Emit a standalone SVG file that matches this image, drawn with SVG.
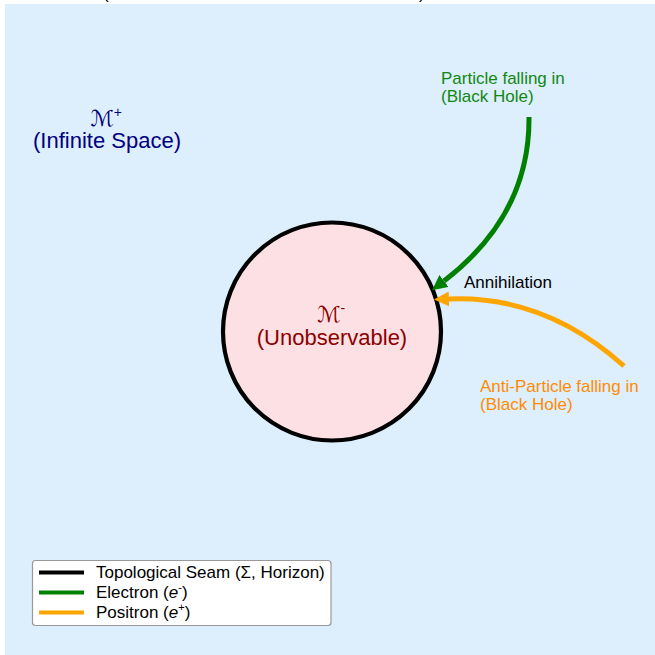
<svg xmlns="http://www.w3.org/2000/svg" width="655" height="655" viewBox="0 0 655 655">
  <style>
    text { font-family: "Liberation Sans", Arial, sans-serif; }
    .big { font-size: 22px; }
    .mid { font-size: 17px; }
    .cal { font-family: "DejaVu Sans", "Liberation Serif", serif; font-style: italic; }
    .blue { fill: #000080; }
    .red { fill: #8b0000; }
    .grn { fill: #118811; }
    .org { fill: #ff8c00; }
    .conn { fill: none; stroke-width: 5; }
  </style>
  <defs>
    <marker id="headG" markerUnits="userSpaceOnUse" viewBox="0 0 15 15" refX="0" refY="7.5" markerWidth="15" markerHeight="15" orient="auto">
      <path d="M0,0 L15,7.5 L0,15 z" fill="#008000"/>
    </marker>
    <marker id="headO" markerUnits="userSpaceOnUse" viewBox="0 0 15 15" refX="0" refY="7.5" markerWidth="15" markerHeight="15" orient="auto">
      <path d="M0,0 L15,7.5 L0,15 z" fill="#ffa500"/>
    </marker>
  </defs>

  <rect x="0" y="0" width="655" height="655" fill="#ffffff"/>
  <rect x="5" y="4" width="650" height="651" fill="#ddeefd"/>

  <g id="title">
    <text x="103" y="-1" class="mid">(</text>
    <text x="419" y="-1" class="mid">)</text>
  </g>

  <g id="M-plus">
    <text x="106" y="126" text-anchor="middle" class="big blue"><tspan class="cal">ℳ</tspan><tspan font-size="14" dy="-9">+</tspan></text>
    <text x="107" y="148" text-anchor="middle" class="big blue">(Infinite Space)</text>
  </g>

  <g id="M-minus">
    <circle cx="332" cy="331.5" r="109" fill="#fde0e4" stroke="#000000" stroke-width="4.2"/>
    <text x="331" y="322" text-anchor="middle" class="big red"><tspan class="cal">ℳ</tspan><tspan font-size="14" dy="-9">-</tspan></text>
    <text x="332" y="345" text-anchor="middle" class="big red">(Unobservable)</text>
  </g>

  <g id="connectors">
    <path class="conn" d="M529,117 Q530,215 444,281" stroke="#008000" marker-end="url(#headG)"/>
    <path class="conn" d="M624,366 Q545,295 449,299" stroke="#ffa500" marker-end="url(#headO)"/>
  </g>

  <g id="label-particle">
    <text x="441" y="84" class="mid grn">Particle falling in</text>
    <text x="441" y="102" class="mid grn">(Black Hole)</text>
  </g>
  <g id="label-annihilation">
    <text x="464" y="288" class="mid" fill="#000000">Annihilation</text>
  </g>
  <g id="label-antiparticle">
    <text x="480" y="392" class="mid org">Anti-Particle falling in</text>
    <text x="480" y="410" class="mid org">(Black Hole)</text>
  </g>

  <g id="legend">
    <rect x="32.5" y="560.5" width="298.5" height="65" rx="3" fill="#ffffff" stroke="#999999" stroke-width="1.2"/>
    <line x1="39" y1="572.5" x2="84" y2="572.5" stroke="#000000" stroke-width="4"/>
    <text x="96" y="578" class="mid">Topological Seam (Σ, Horizon)</text>
    <line x1="39" y1="592.5" x2="84" y2="592.5" stroke="#008000" stroke-width="4"/>
    <text x="96" y="598" class="mid">Electron (<tspan font-style="italic">e</tspan><tspan font-size="11" dy="-7">-</tspan><tspan dy="7">)</tspan></text>
    <line x1="39" y1="612.5" x2="84" y2="612.5" stroke="#ffa500" stroke-width="4"/>
    <text x="96" y="618" class="mid">Positron (<tspan font-style="italic">e</tspan><tspan font-size="11" dy="-7">+</tspan><tspan dy="7">)</tspan></text>
  </g>
</svg>
